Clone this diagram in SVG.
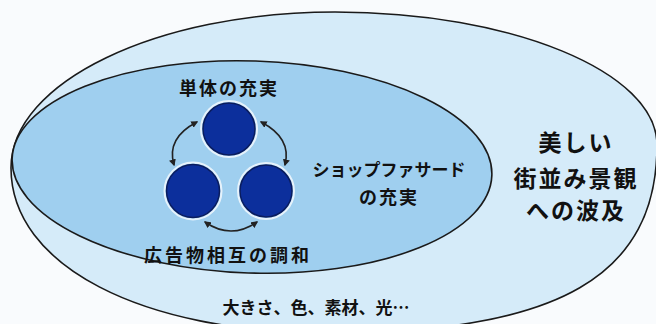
<svg xmlns="http://www.w3.org/2000/svg" width="656" height="324" viewBox="0 0 656 324">
  <defs>
    <style>
      .t { font-family: "Noto Sans CJK JP", "Noto Sans", sans-serif; font-weight: 700; fill: #111; text-anchor: middle; }
      .ell { stroke: #1a1a1a; stroke-width: 1.6; }
      .dot { fill: #0c2f9c; stroke: #0a1c5e; stroke-width: 1.5; }
      .halo { fill: none; stroke: #e6f2fb; stroke-width: 2; }
      .arr { fill: none; stroke: #222; stroke-width: 1.6; marker-start: url(#ah); marker-end: url(#ah); }
    </style>
    <marker id="ah" viewBox="0 0 10 10" refX="8" refY="5" markerWidth="7" markerHeight="7" markerUnits="userSpaceOnUse" orient="auto-start-reverse">
      <path d="M0,0 L10,5 L0,10 Z" fill="#222"/>
    </marker>
  </defs>
  <rect width="656" height="324" fill="#f9fbfd"/>

  <g id="outer">
    <path class="ell" fill="#d5ebf9" d="M 11 168 C 11 82 157 12 335 12 C 512 12 657 72 657 145 C 657 275 560 333 330 333 C 140 333 11 265 11 168 Z"/>
    <text class="t" x="576" y="151" font-size="23" letter-spacing="2">美しい</text>
    <text class="t" x="576" y="187" font-size="23" letter-spacing="2">街並み景観</text>
    <text class="t" x="576" y="219" font-size="23" letter-spacing="2">への波及</text>
    <text class="t" x="316" y="314" font-size="17">大きさ、色、素材、光…</text>
  </g>

  <g id="inner">
    <ellipse class="ell" fill="#9fcfef" cx="252" cy="167" rx="240" ry="106" transform="rotate(2 252 167)"/>
    <text class="t" x="389" y="176" font-size="17">ショップファサード</text>
    <text class="t" x="389" y="204" font-size="18" letter-spacing="2">の充実</text>
    <text class="t" x="229" y="95" font-size="18" letter-spacing="2">単体の充実</text>
    <text class="t" x="228" y="262" font-size="18" letter-spacing="3">広告物相互の調和</text>
  </g>

  <g id="node-top">
    <circle class="halo" cx="229" cy="129" r="28"/>
    <circle class="dot" cx="229" cy="129" r="26"/>
  </g>
  <g id="node-left">
    <circle class="halo" cx="193" cy="191" r="28.5"/>
    <circle class="dot" cx="193" cy="191" r="26.5"/>
  </g>
  <g id="node-right">
    <circle class="halo" cx="266" cy="191" r="28"/>
    <circle class="dot" cx="266" cy="191" r="26"/>
  </g>

  <g id="connectors">
    <path class="arr" d="M 197 122 Q 166 138 174 165"/>
    <path class="arr" d="M 261 122 Q 292 138 285 165"/>
    <path class="arr" d="M 205 222 Q 231 240 257 222"/>
  </g>
</svg>
